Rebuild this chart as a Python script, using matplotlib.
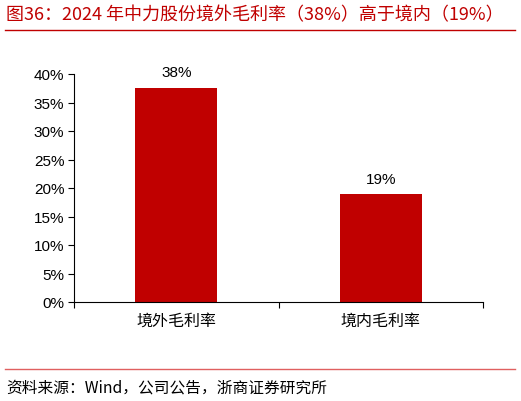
import matplotlib
matplotlib.use("Agg")
import matplotlib.pyplot as plt
from matplotlib.ticker import FuncFormatter, MultipleLocator

plt.rcParams['font.family'] = ['Noto Sans CJK SC', 'DejaVu Sans']

categories = ["境外毛利率", "境内毛利率"]
values = [37.6, 18.9]
labels = ["38%", "19%"]
title = "图36：2024 年中力股份境外毛利率（38%）高于境内（19%）"
source = "资料来源：Wind，公司公告，浙商证券研究所"

W, H = 521, 402
fig = plt.figure(figsize=(W/100, H/100), dpi=100)
ax = fig.add_axes([74/W, 1-303/H, (483-74)/W, (303-75)/H])

x = range(len(categories))
ax.bar(x, values, width=0.4, color="#C00000")
for xi, v, lb in zip(x, values, labels):
    ax.text(xi, v + 1.5, lb, ha="center", va="bottom", fontsize=11, family=['Liberation Sans', 'DejaVu Sans'])

ax.set_xlim(-0.5, 1.5)
ax.set_ylim(0, 40)
ax.yaxis.set_major_locator(MultipleLocator(5))
ax.yaxis.set_major_formatter(FuncFormatter(lambda v, p: f"{v:.0f}%"))
ax.set_xticks([-0.5, 0.5, 1.5], minor=False)
ax.set_xticklabels([])
ax.set_xticks(list(x), minor=True)
ax.set_xticklabels(categories, minor=True, fontsize=11.5)
ax.tick_params(axis='x', which='minor', length=0, pad=7)
ax.tick_params(axis='x', which='major', length=4, direction='out')
ax.tick_params(axis='y', length=4, direction='out', labelsize=11, pad=3)
for lab in ax.get_yticklabels():
    lab.set_family(['Liberation Sans', 'DejaVu Sans'])
for s in ['top', 'right']:
    ax.spines[s].set_visible(False)

fig.text(6/W, 1-15/H, title, color="#C00000", fontsize=13, va="center", ha="left")
fig.add_artist(plt.Line2D([5/W, 515/W], [1-31/H, 1-31/H], color="#C00000", lw=1))
fig.add_artist(plt.Line2D([5/W, 515/W], [1-370/H, 1-370/H], color="#E06060", lw=1))
fig.text(6/W, 1-388/H, source, color="black", fontsize=11.3, va="center", ha="left")

fig.savefig("out.png", dpi=100)
